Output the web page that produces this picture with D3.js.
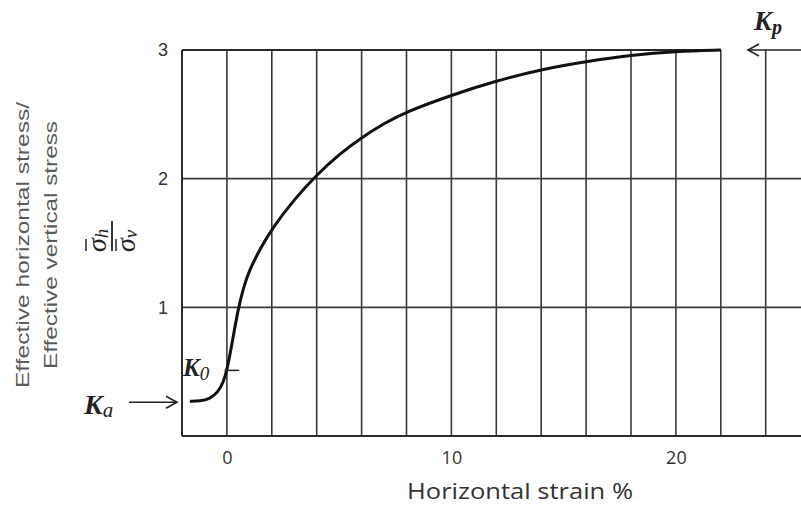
<!DOCTYPE html>
<html>
<head>
<meta charset="utf-8">
<script src="https://cdn.jsdelivr.net/npm/d3@7"></script>
<style>
  html, body { margin: 0; padding: 0; background: #fff; }
  svg { display: block; }
</style>
</head>
<body>
<svg id="chart" width="801" height="509"></svg>
<script>
// Horizontal strain (%) and the stress ratio sigma_h / sigma_v along the curve
const strain = [-1.65, -1.2, -0.75, -0.4, -0.15, 0, 0.2, 0.5, 0.75, 1.0, 1.5, 2.0, 3.0, 4.0, 5.0, 6.0, 7.0, 8.0, 10.0, 12.0, 14.0, 16.0, 18.0, 20.0, 22.0];
const ratio  = [0.27, 0.27, 0.29, 0.34, 0.42, 0.51, 0.69, 0.99, 1.16, 1.29, 1.46, 1.61, 1.84, 2.03, 2.19, 2.32, 2.43, 2.52, 2.65, 2.76, 2.85, 2.91, 2.96, 2.99, 3.0];

const xGrid = [0, 2, 4, 6, 8, 10, 12, 14, 16, 18, 20, 22, 24];
const xTickLabels = [0, 10, 20];
const yGrid = [1, 2];
const yTickLabels = [1, 2, 3];

const Ka = 0.27, K0 = 0.51, Kp = 3.0;

const svg = d3.select("#chart");
const x = d3.scaleLinear().domain([-2, 24]).range([182, 765.7]);
const y = d3.scaleLinear().domain([0, 3]).range([436, 50]);
const xMin = -2, xMax = 25.6, xTop = 22;

const ink = "#2a2a2a";

// grid: vertical lines
svg.append("g").selectAll("line").data(xGrid).join("line")
  .attr("x1", d => x(d)).attr("x2", d => x(d))
  .attr("y1", y(3)).attr("y2", y(0))
  .attr("stroke", "#3a3a3a").attr("stroke-width", 1.6);

// grid: horizontal lines
svg.append("g").selectAll("line").data(yGrid).join("line")
  .attr("x1", x(xMin)).attr("x2", x(xMax))
  .attr("y1", d => y(d)).attr("y2", d => y(d))
  .attr("stroke", "#3a3a3a").attr("stroke-width", 1.6);

// top boundary at ratio 3
svg.append("line")
  .attr("x1", x(xMin)).attr("x2", x(xTop))
  .attr("y1", y(3)).attr("y2", y(3))
  .attr("stroke", ink).attr("stroke-width", 2);

// axes frame
svg.append("line").attr("x1", x(xMin)).attr("x2", x(xMin))
  .attr("y1", y(3)).attr("y2", y(0)).attr("stroke", ink).attr("stroke-width", 2);
svg.append("line").attr("x1", x(xMin)).attr("x2", x(xMax))
  .attr("y1", y(0)).attr("y2", y(0)).attr("stroke", ink).attr("stroke-width", 2.2);

// axis tick labels
const yAxis = d3.axisLeft(y).tickValues(yTickLabels).tickSize(0).tickPadding(14).tickFormat(d3.format("d"));
const gy = svg.append("g").attr("transform", `translate(${x(xMin)},0)`).call(yAxis);
gy.select(".domain").remove();
gy.selectAll("text").attr("font-family", "Liberation Sans, Arial, sans-serif")
  .attr("font-size", 18).attr("fill", "#333");

const xAxis = d3.axisBottom(x).tickValues(xTickLabels).tickSize(0).tickPadding(15).tickFormat(d3.format("d"));
const gx = svg.append("g").attr("transform", `translate(0,${y(0)})`).call(xAxis);
gx.select(".domain").remove();
gx.selectAll("text").attr("font-family", "Open Sans, sans-serif")
  .attr("font-size", 18).attr("fill", "#333");

// the stress-ratio curve (B-spline through the sampled points)
const pts = strain.map((s, i) => [s, ratio[i]]);
svg.append("path").datum(pts)
  .attr("d", d3.line().x(d => x(d[0])).y(d => y(d[1])).curve(d3.curveBasis))
  .attr("fill", "none").attr("stroke", "#111").attr("stroke-width", 3);

// axis titles
svg.append("text")
  .attr("x", 520).attr("y", 499)
  .attr("text-anchor", "middle")
  .attr("font-family", "Open Sans, sans-serif").attr("font-size", 21)
  .attr("fill", "#333")
  .attr("textLength", 226).attr("lengthAdjust", "spacingAndGlyphs")
  .text("Horizontal strain %");

const yt = svg.append("g").attr("transform", "translate(0,245) rotate(-90)")
  .attr("font-family", "Liberation Sans, Arial, sans-serif").attr("font-size", 19)
  .attr("fill", "#5a5a5a").attr("text-anchor", "middle");
yt.append("text").attr("x", 0).attr("y", 29)
  .attr("textLength", 286).attr("lengthAdjust", "spacingAndGlyphs")
  .text("Effective horizontal stress/");
yt.append("text").attr("x", 0).attr("y", 57)
  .attr("textLength", 248).attr("lengthAdjust", "spacingAndGlyphs")
  .text("Effective vertical stress");

// fraction sigma_h / sigma_v, rotated
const fr = svg.append("g").attr("transform", "translate(112,236) rotate(-90)")
  .attr("font-family", "Liberation Serif, DejaVu Serif, serif").attr("fill", "#222");
fr.append("line").attr("x1", -15).attr("x2", 15).attr("y1", 0).attr("y2", 0)
  .attr("stroke", "#222").attr("stroke-width", 1.8);
const num = fr.append("text").attr("x", -16).attr("y", -6).attr("font-size", 28).attr("font-style", "italic");
num.append("tspan").text("σ");
num.append("tspan").attr("dy", 2).attr("font-size", 19).text("h");
fr.append("line").attr("x1", -15).attr("x2", -3).attr("y1", -26).attr("y2", -26)
  .attr("stroke", "#222").attr("stroke-width", 1.5);
const den = fr.append("text").attr("x", -16).attr("y", 23).attr("font-size", 28).attr("font-style", "italic");
den.append("tspan").text("σ");
den.append("tspan").attr("dy", 2).attr("font-size", 19).text("v");
fr.append("line").attr("x1", -15).attr("x2", -3).attr("y1", 4).attr("y2", 4)
  .attr("stroke", "#222").attr("stroke-width", 1.5);

// arrow helper: shaft plus open chevron head
function arrow(x1, y1, x2, y2) {
  const g = svg.append("g").attr("stroke", "#222").attr("stroke-width", 1.6).attr("fill", "none");
  g.append("line").attr("x1", x1).attr("y1", y1).attr("x2", x2).attr("y2", y2);
  const dir = Math.sign(x2 - x1);
  g.append("path").attr("d", `M${x2 - dir * 11},${y2 - 6} L${x2},${y2} L${x2 - dir * 11},${y2 + 6}`);
}

const serif = "Liberation Serif, DejaVu Serif, serif";

// K_a label and arrow
const ka = svg.append("text").attr("x", 84).attr("y", 414)
  .attr("font-family", serif).attr("font-style", "italic").attr("font-weight", "bold")
  .attr("font-size", 28).attr("fill", "#222");
ka.append("tspan").text("K");
ka.append("tspan").attr("dy", 3).attr("font-size", 21).attr("font-weight", "normal").text("a");
arrow(129, y(Ka) + 1, 177, y(Ka) + 1);

// K_0 label and marker
const k0 = svg.append("text").attr("x", 183).attr("y", 376)
  .attr("font-family", serif).attr("font-style", "italic").attr("font-weight", "bold")
  .attr("font-size", 25).attr("fill", "#222");
k0.append("tspan").text("K");
k0.append("tspan").attr("dy", 4).attr("font-size", 19).attr("font-weight", "normal").text("0");
svg.append("line").attr("x1", x(-0.1)).attr("x2", x(0.55)).attr("y1", y(K0)).attr("y2", y(K0))
  .attr("stroke", "#222").attr("stroke-width", 1.5);

// K_p label and arrow
const kp = svg.append("text").attr("x", 754).attr("y", 30)
  .attr("font-family", serif).attr("font-style", "italic").attr("font-weight", "bold")
  .attr("font-size", 27).attr("fill", "#222");
kp.append("tspan").text("K");
kp.append("tspan").attr("dy", 4).attr("font-size", 20).text("p");
arrow(801, y(Kp), 748, y(Kp));
</script>
</body>
</html>
